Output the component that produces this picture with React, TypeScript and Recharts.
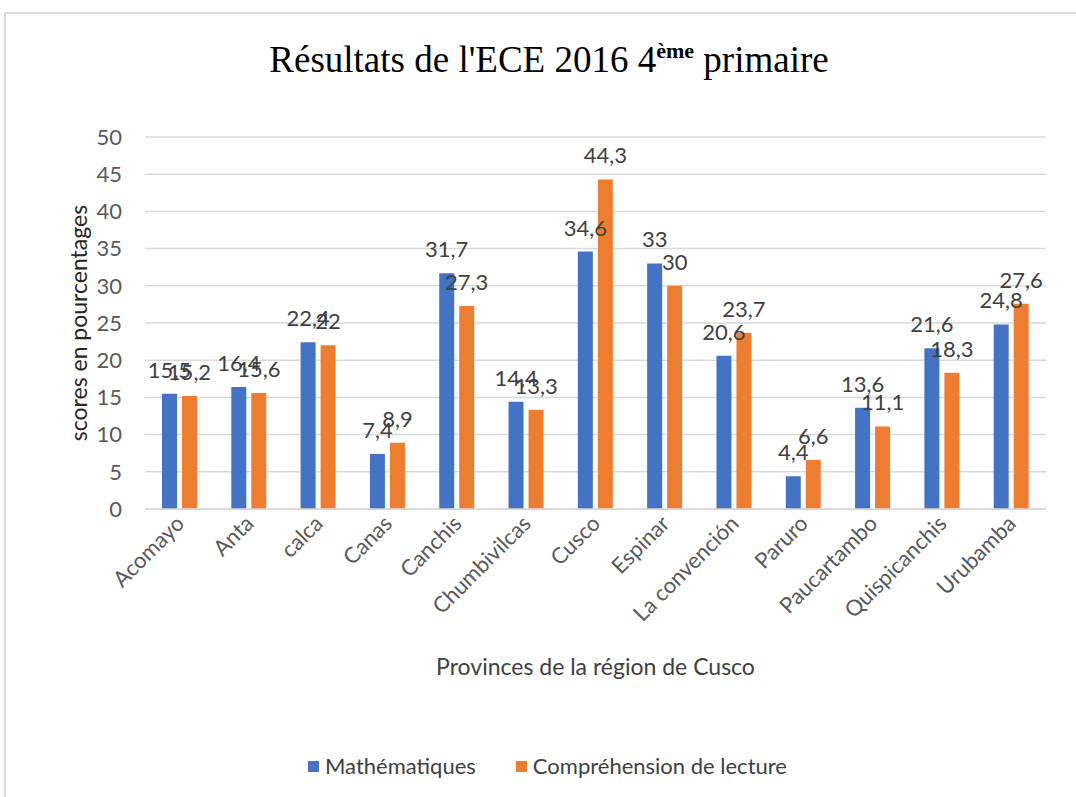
import { BarChart, Bar, XAxis, YAxis, CartesianGrid, Legend, LabelList } from 'recharts'

const provinces = ['Acomayo', 'Anta', 'calca', 'Canas', 'Canchis', 'Chumbivilcas', 'Cusco', 'Espinar', 'La convención', 'Paruro', 'Paucartambo', 'Quispicanchis', 'Urubamba']
const mathScores = [15.5, 16.4, 22.4, 7.4, 31.7, 14.4, 34.6, 33, 20.6, 4.4, 13.6, 21.6, 24.8]
const readingScores = [15.2, 15.6, 22, 8.9, 27.3, 13.3, 44.3, 30, 23.7, 6.6, 11.1, 18.3, 27.6]
const yTicks = [0, 5, 10, 15, 20, 25, 30, 35, 40, 45, 50]

const seriesNames = { math: 'Mathématiques', reading: 'Compréhension de lecture' }
const BLUE = '#4472C4'
const ORANGE = '#ED7D31'
const FONT = 'Lato, "Open Sans", sans-serif'

const data = provinces.map((p, i) => ({ province: p, math: mathScores[i], reading: readingScores[i] }))

const fmt = (v: any) => String(v).replace('.', ',')

function ProvinceTick({ x, y, payload }: any) {
  return (
    <text
      x={x + 6}
      y={y + 8}
      transform={`rotate(-45 ${x + 6} ${y + 8})`}
      textAnchor="end"
      fill="#595959"
      fontSize={22}
      fontFamily={FONT}
    >
      {payload.value}
    </text>
  )
}

function LegendBox() {
  const items = [
    { name: seriesNames.math, color: BLUE },
    { name: seriesNames.reading, color: ORANGE },
  ]
  return (
    <div style={{ display: 'flex', paddingLeft: 308, fontFamily: FONT, fontSize: 22, color: '#404040', lineHeight: '26px' }}>
      {items.map((it) => (
        <div key={it.name} style={{ display: 'flex', alignItems: 'center', marginRight: 40 }}>
          <span style={{ width: 11, height: 11, background: it.color, display: 'inline-block', marginRight: 6 }} />
          <span>{it.name}</span>
        </div>
      ))}
    </div>
  )
}

export default function App() {
  return (
    <div style={{ position: 'absolute', left: 0, top: 0, width: 1076, height: 797, background: '#fff', overflow: 'hidden' }}>
      <div style={{ position: 'absolute', left: 4, top: 12, width: 1200, height: 900, borderTop: '2px solid #d9d9d9', borderLeft: '2px solid #d9d9d9' }} />
      <svg width={1076} height={100} style={{ position: 'absolute', left: 0, top: 0 }}>
        <text x={549} y={72} textAnchor="middle" fontFamily='"Liberation Serif", "Times New Roman", serif' fontSize={37} fill="#000">
          <tspan>Résultats de l'ECE 2016 4</tspan>
          <tspan dy={-14} fontSize={22} fontWeight="bold">ème</tspan>
          <tspan dy={14}> primaire</tspan>
        </text>
      </svg>
      <div style={{ position: 'absolute', left: 0, top: 0 }}>
        <BarChart
          width={1076}
          height={797}
          data={data}
          margin={{ top: 137, right: 30, left: 45, bottom: 138 }}
          barSize={15}
          barGap={5}
        >
          <CartesianGrid vertical={false} stroke="#d9d9d9" strokeWidth={1.5} />
          <XAxis
            dataKey="province"
            height={150}
            interval={0}
            tickLine={false}
            axisLine={{ stroke: '#d9d9d9', strokeWidth: 1.5 }}
            tick={<ProvinceTick />}
            label={{
              content: ({ viewBox }: any) => (
                <text x={viewBox.x + viewBox.width / 2} y={675} textAnchor="middle" fill="#404040" fontSize={23} fontFamily={FONT}>
                  Provinces de la région de Cusco
                </text>
              ),
            }}
          />
          <YAxis
            width={100}
            domain={[0, 50]}
            ticks={yTicks}
            interval={0}
            axisLine={false}
            tickLine={false}
            tickMargin={17}
            tick={{ fill: '#595959', fontSize: 22, fontFamily: FONT }}
            label={{
              content: ({ viewBox }: any) => {
                const cx = viewBox.x + 33
                const cy = viewBox.y + viewBox.height / 2
                return (
                  <text x={cx} y={cy} transform={`rotate(-90 ${cx} ${cy})`} textAnchor="middle" dominantBaseline="central" fill="#262626" fontSize={23} fontFamily={FONT}>
                    scores en pourcentages
                  </text>
                )
              },
            }}
          />
          <Legend verticalAlign="middle" align="center" wrapperStyle={{ top: 753, left: 0, width: 1076 }} content={() => <LegendBox />} />
          <Bar dataKey="math" name={seriesNames.math} fill={BLUE} isAnimationActive={false}>
            <LabelList dataKey="math" position="top" offset={16} formatter={fmt} fill="#404040" fontSize={22} fontFamily={FONT} />
          </Bar>
          <Bar dataKey="reading" name={seriesNames.reading} fill={ORANGE} isAnimationActive={false}>
            <LabelList dataKey="reading" position="top" offset={16} formatter={fmt} fill="#404040" fontSize={22} fontFamily={FONT} />
          </Bar>
        </BarChart>
      </div>
    </div>
  )
}
